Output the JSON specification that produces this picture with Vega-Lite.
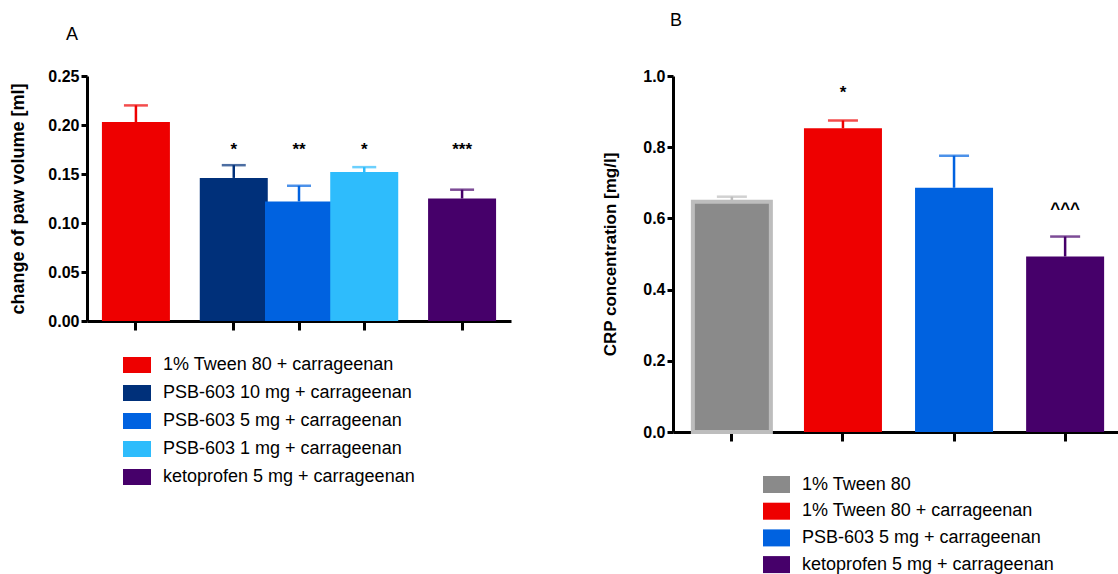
{
  "$schema": "https://vega.github.io/schema/vega-lite/v6.json",
  "padding": {"left": 9, "top": 12, "right": 0, "bottom": 0},
  "bounds": "flush",
  "spacing": 162,
  "config": {
    "view": {"stroke": null},
    "font": "Liberation Sans",
    "axis": {
      "domainColor": "black", "domainWidth": 3, "tickColor": "black", "tickWidth": 3, "tickSize": 6,
      "labelFont": "Liberation Sans", "labelFontSize": 16, "labelFontWeight": "bold", "labelColor": "black", "labelPadding": 2,
      "titleFont": "Liberation Sans", "titleFontWeight": "bold", "titleColor": "black", "grid": false
    },
    "legend": {
      "title": null, "symbolStrokeWidth": 0, "symbolOpacity": 1, "labelFont": "Liberation Sans", "labelFontSize": 18,
      "labelColor": "black", "labelOffset": 12, "labelLimit": 500, "padding": 0
    },
    "title": {"font": "Liberation Sans", "fontSize": 18, "fontWeight": "normal", "color": "black", "anchor": "start", "frame": "group", "baseline": "alphabetic"}
  },
  "datasets": {
    "A": [
      {"group": "1% Tween 80 + carrageenan", "mean": 0.203, "upper": 0.220, "stars": ""},
      {"group": "PSB-603 10 mg + carrageenan", "mean": 0.146, "upper": 0.159, "stars": "*"},
      {"group": "PSB-603 5 mg + carrageenan", "mean": 0.122, "upper": 0.138, "stars": "**"},
      {"group": "PSB-603 1 mg + carrageenan", "mean": 0.152, "upper": 0.157, "stars": "*"},
      {"group": "ketoprofen 5 mg + carrageenan", "mean": 0.125, "upper": 0.134, "stars": "***"}
    ],
    "B": [
      {"group": "1% Tween 80", "mean": 0.647, "upper": 0.661, "mark": ""},
      {"group": "1% Tween 80 + carrageenan", "mean": 0.853, "upper": 0.875, "mark": "*"},
      {"group": "PSB-603 5 mg + carrageenan", "mean": 0.686, "upper": 0.776, "mark": ""},
      {"group": "ketoprofen 5 mg + carrageenan", "mean": 0.493, "upper": 0.549, "mark": "^^^"}
    ]
  },
  "hconcat": [
    {
      "width": 424,
      "height": 245,
      "title": {"text": "A", "dx": -21, "offset": 24},
      "data": {"name": "A"},
      "encoding": {
        "x": {
          "field": "group", "type": "nominal",
          "scale": {"domain": ["1% Tween 80 + carrageenan", "gap1", "gap2", "PSB-603 10 mg + carrageenan", "gap4", "PSB-603 5 mg + carrageenan", "gap6", "PSB-603 1 mg + carrageenan", "gap8", "gap9", "ketoprofen 5 mg + carrageenan"], "paddingInner": 0, "paddingOuter": 1.05},
          "axis": {"values": ["1% Tween 80 + carrageenan", "PSB-603 10 mg + carrageenan", "PSB-603 5 mg + carrageenan", "PSB-603 1 mg + carrageenan", "ketoprofen 5 mg + carrageenan"], "labels": false, "title": null, "tickSize": 9}
        }
      },
      "layer": [
        {
          "mark": {"type": "bar", "width": 68},
          "encoding": {
            "y": {"field": "mean", "type": "quantitative", "scale": {"domain": [0, 0.25], "nice": false},
                  "axis": {"title": "change of paw volume  [ml]", "titleFontSize": 18, "titlePadding": 20, "values": [0, 0.05, 0.1, 0.15, 0.2, 0.25], "format": ".2f"}},
            "color": {"field": "group", "type": "nominal",
                      "scale": {"domain": ["1% Tween 80 + carrageenan", "PSB-603 10 mg + carrageenan", "PSB-603 5 mg + carrageenan", "PSB-603 1 mg + carrageenan", "ketoprofen 5 mg + carrageenan"],
                                "range": ["#ee0000", "#00307a", "#0062e0", "#2ebcfc", "#46006a"]},
                      "legend": {"orient": "none", "legendX": 36, "legendY": 275, "symbolType": "M-1,-0.571H1V0.571H-1Z", "symbolSize": 784, "rowPadding": 5}}
          }
        },
        {
          "mark": {"type": "rule", "strokeWidth": 2.5},
          "encoding": {
            "y": {"field": "mean", "type": "quantitative", "title": "change of paw volume  [ml]"},
            "y2": {"field": "upper"},
            "color": {"field": "group", "type": "nominal", "legend": null}
          }
        },
        {
          "mark": {"type": "tick", "size": 24, "thickness": 2.5},
          "encoding": {
            "y": {"field": "upper", "type": "quantitative", "title": "change of paw volume  [ml]"},
            "color": {"field": "group", "type": "nominal", "legend": null}
          }
        },
        {
          "mark": {"type": "text", "fontSize": 17, "fontWeight": "bold", "baseline": "alphabetic", "color": "black"},
          "encoding": {
            "y": {"datum": 0.169, "type": "quantitative", "title": "change of paw volume  [ml]"},
            "text": {"field": "stars"}
          }
        }
      ]
    },
    {
      "width": 451,
      "height": 356,
      "title": {"text": "B", "dx": -3, "offset": 38},
      "data": {"name": "B"},
      "encoding": {
        "x": {
          "field": "group", "type": "nominal",
          "scale": {"domain": ["1% Tween 80", "1% Tween 80 + carrageenan", "PSB-603 5 mg + carrageenan", "ketoprofen 5 mg + carrageenan"], "paddingInner": 0, "paddingOuter": 0.03},
          "axis": {"labels": false, "title": null, "tickSize": 9}
        }
      },
      "layer": [
        {
          "mark": {"type": "bar", "width": 78, "strokeWidth": 4},
          "encoding": {
            "y": {"field": "mean", "type": "quantitative", "scale": {"domain": [0, 1], "nice": false},
                  "axis": {"title": "CRP concentration [mg/l]", "titleFontSize": 17, "titlePadding": 23, "values": [0, 0.2, 0.4, 0.6, 0.8, 1.0], "format": ".1f"}},
            "stroke": {"condition": {"test": "datum.group === '1% Tween 80'", "value": "#bdbdbd"}, "value": null},
            "color": {"field": "group", "type": "nominal",
                      "scale": {"domain": ["1% Tween 80", "1% Tween 80 + carrageenan", "PSB-603 5 mg + carrageenan", "ketoprofen 5 mg + carrageenan"],
                                "range": ["#8a8a8a", "#ee0000", "#0062e0", "#46006a"]},
                      "legend": {"orient": "none", "legendX": 90, "legendY": 395, "symbolType": "M-1,-0.63H1V0.63H-1Z", "symbolSize": 729, "rowPadding": 3.7}}
          }
        },
        {
          "mark": {"type": "rule", "strokeWidth": 2.5},
          "encoding": {
            "y": {"field": "mean", "type": "quantitative", "title": "CRP concentration [mg/l]"},
            "y2": {"field": "upper"},
            "color": {"condition": {"test": "datum.group === '1% Tween 80'", "value": "#bdbdbd"}, "field": "group", "type": "nominal", "legend": null}
          }
        },
        {
          "mark": {"type": "tick", "size": 30, "thickness": 2.5},
          "encoding": {
            "y": {"field": "upper", "type": "quantitative", "title": "CRP concentration [mg/l]"},
            "color": {"condition": {"test": "datum.group === '1% Tween 80'", "value": "#bdbdbd"}, "field": "group", "type": "nominal", "legend": null}
          }
        },
        {
          "mark": {"type": "text", "fontSize": 17, "fontWeight": "bold", "baseline": "alphabetic", "color": "black", "dy": -23},
          "encoding": {
            "y": {"field": "upper", "type": "quantitative", "title": "CRP concentration [mg/l]"},
            "text": {"field": "mark"}
          }
        }
      ]
    }
  ],
  "resolve": {"scale": {"color": "independent", "x": "independent", "y": "independent"}, "legend": {"color": "independent"}}
}
